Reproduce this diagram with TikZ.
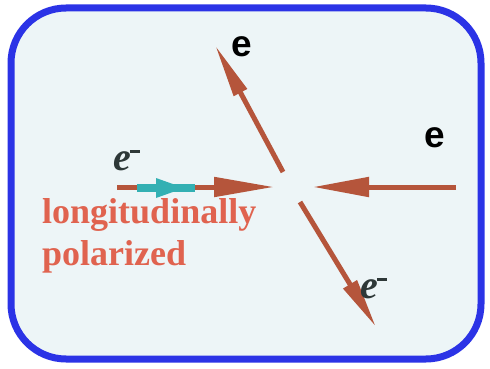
\documentclass[tikz,border=0pt]{standalone}
\usepackage{fontspec}
\setmainfont{Liberation Serif}
\setsansfont{Liberation Sans}
\usetikzlibrary{arrows.meta}
\definecolor{frameblue}{HTML}{2B33E6}
\definecolor{panel}{HTML}{EDF5F7}
\definecolor{beam}{HTML}{B5553B}
\definecolor{spin}{HTML}{33B0B3}
\definecolor{labelred}{HTML}{E0634F}
\definecolor{ink}{HTML}{2E3838}
\newcommand{\negsign}{\kern-1pt\raisebox{17pt}{\rule{10pt}{3.5pt}}}
\begin{document}
\begin{tikzpicture}[x=1pt,y=-1pt,
  track/.style 2 args={draw=beam,line width=5pt,-{Triangle[length=#1,width=#2]}},
  particle/.style={inner sep=0pt,font=\sffamily\bfseries\fontsize{37}{40}\selectfont,text=black},
  lepton/.style={inner sep=0pt,anchor=base west,font=\bfseries\itshape\fontsize{40}{40}\selectfont,text=ink},
  caption/.style={inner sep=0pt,anchor=base west,font=\bfseries\fontsize{36}{42}\selectfont,text=labelred}]
\useasboundingbox (0,0) rectangle (490,369);
% panel
\draw[frameblue,line width=7pt,fill=panel,rounded corners=55pt] (11,8) rectangle (481,359);

% interaction vertex and beam ends
\coordinate (inL) at (117,187);
\coordinate (vtxL) at (274,187);
\coordinate (inR) at (456,187);
\coordinate (vtxR) at (313,187);
\coordinate (outUa) at (283,172);
\coordinate (outUb) at (215,45);
\coordinate (outDa) at (300,202);
\coordinate (outDb) at (376,327);

% incoming and outgoing tracks
\draw[track={60pt}{19pt}] (inL) -- (vtxL);
\draw[track={56pt}{19pt}] (inR) -- (vtxR);
\draw[track={54pt}{14pt}] (outUa) -- (outUb);
\draw[track={50pt}{15pt}] (outDa) -- (outDb);

% spin marker on the polarized beam
\coordinate (spinA) at (137,188);
\coordinate (spinB) at (195,188);
\draw[spin,line width=8pt] (spinA) -- (spinB);
\fill[spin] (156,178) -- (184,188) -- (156,198) -- cycle;

% labels
\node[particle] (eU) at (242,47) {e};
\node[particle] (eR) at (435,138) {e};
\node[lepton] (eL) at (113,170) {e\negsign};
\node[lepton] (eD) at (360,298) {e\negsign};
\node[caption] (lon) at (42,223) {longitudinally};
\node[caption] (pol) at (42,265) {polarized};
\end{tikzpicture}
\end{document}
